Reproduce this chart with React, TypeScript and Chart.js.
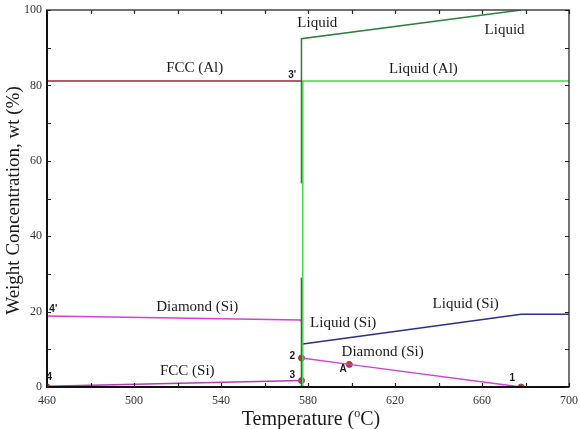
import React, { useEffect, useRef } from "react";
import { Chart, registerables } from "chart.js";

Chart.register(...registerables);

// Temperature (°C) / composition (wt %) of each phase boundary
const fccAlT = [460, 577];
const fccAlWt = [81.2, 81.2];

const liquidAlT = [577.6, 577.6, 700];
const liquidAlWt = [0, 81.2, 81.2];

const liquidT = [577, 577, 678];
const liquidWt = [54, 92.4, 100];

const liquidLowT = [577, 577];
const liquidLowWt = [0, 29];

const diamondUpperT = [460, 576.5, 576.5];
const diamondUpperWt = [18.8, 17.8, 17.4];

const fccSiT = [460, 577];
const fccSiWt = [0.2, 1.7];

const diamondLowerT = [577, 599, 678];
const diamondLowerWt = [7.7, 6.0, 0];

const liquidSiT = [577.6, 678, 700];
const liquidSiWt = [11.4, 19.3, 19.3];

// Marked states on the cooling path
const markerT = [460, 577, 577, 599, 678];
const markerWt = [0, 1.7, 7.7, 6.0, 0];

// Axis ticks
const xTickValues = [460, 480, 500, 520, 540, 560, 580, 600, 620, 640, 660, 680, 700];
const xTickLabels = ["460", "500", "540", "580", "620", "660", "700"];
const yTickValues = [0, 10, 20, 30, 40, 50, 60, 70, 80, 90, 100];
const yTickLabels = ["0", "20", "40", "60", "80", "100"];

// Phase names and where they sit (°C, wt %)
const phaseNames = [
  "FCC (Al)", "Liquid", "Liquid", "Liquid (Al)", "Diamond (Si)",
  "FCC (Si)", "Liquid (Si)", "Liquid (Si)", "Diamond (Si)",
];
const phaseNameT = [527.9, 584.3, 670.4, 633.1, 529.1, 524.5, 596.2, 652.5, 614.3];
const phaseNameWt = [84.7, 96.5, 94.6, 84.4, 21.1, 4.1, 17.0, 21.9, 9.2];

// Point ids
const pointIds = ["3'", "2", "3", "A", "1", "4", "4'"];
const pointIdT = [572.7, 572.8, 572.8, 596.2, 673.9, 461.0, 462.9];
const pointIdWt = [82.7, 8.1, 3.1, 4.8, 2.4, 2.5, 20.5];

const SERIF = "'Liberation Serif', 'Times New Roman', serif";

const zip = (xs: number[], ys: number[]) => xs.map((x, i) => ({ x, y: ys[i] }));

const line = (data: { x: number; y: number }[], color: string, width = 1.5) => ({
  type: "line" as const,
  data,
  borderColor: color,
  backgroundColor: color,
  borderWidth: width,
  pointRadius: 0,
  showLine: true,
  fill: false,
  tension: 0,
});

const decorations = {
  id: "decorations",
  afterDatasetsDraw(chart: any) {
    const { ctx, chartArea: a, scales } = chart;
    const xs = scales.x;
    const ys = scales.y;
    ctx.save();

    // frame
    ctx.strokeStyle = "#444";
    ctx.lineWidth = 1.5;
    ctx.strokeRect(a.left, a.top, a.right - a.left, a.bottom - a.top);
    ctx.strokeStyle = "#111";
    ctx.lineWidth = 2;
    ctx.beginPath();
    ctx.moveTo(a.left, a.top);
    ctx.lineTo(a.left, a.bottom);
    ctx.lineTo(a.right, a.bottom);
    ctx.stroke();

    // inward ticks on all four sides
    ctx.lineWidth = 1.2;
    ctx.strokeStyle = "#222";
    const tl = 4;
    xTickValues.forEach((v) => {
      const px = Math.round(xs.getPixelForValue(v)) + 0.5;
      ctx.beginPath();
      ctx.moveTo(px, a.bottom);
      ctx.lineTo(px, a.bottom - tl);
      ctx.moveTo(px, a.top);
      ctx.lineTo(px, a.top + tl);
      ctx.stroke();
    });
    yTickValues.forEach((v) => {
      const py = Math.round(ys.getPixelForValue(v)) + 0.5;
      ctx.beginPath();
      ctx.moveTo(a.left, py);
      ctx.lineTo(a.left + tl, py);
      ctx.moveTo(a.right, py);
      ctx.lineTo(a.right - tl, py);
      ctx.stroke();
    });

    // phase names
    ctx.fillStyle = "#1a1a1a";
    ctx.font = `15px ${SERIF}`;
    ctx.textAlign = "center";
    ctx.textBaseline = "middle";
    phaseNames.forEach((name, i) => {
      ctx.fillText(name, xs.getPixelForValue(phaseNameT[i]), ys.getPixelForValue(phaseNameWt[i]));
    });

    // point ids
    ctx.font = "bold 10px 'Liberation Sans', 'DejaVu Sans', sans-serif";
    pointIds.forEach((id, i) => {
      ctx.fillText(id, xs.getPixelForValue(pointIdT[i]), ys.getPixelForValue(pointIdWt[i]));
    });

    // x title with superscript degree mark
    const big = `20px ${SERIF}`;
    const small = `12px ${SERIF}`;
    const p1 = "Temperature (";
    const p2 = "o";
    const p3 = "C)";
    ctx.font = big;
    const w1 = ctx.measureText(p1).width;
    const w3 = ctx.measureText(p3).width;
    ctx.font = small;
    const w2 = ctx.measureText(p2).width;
    const total = w1 + w2 + w3;
    let x0 = (a.left + a.right) / 2 + 3 - total / 2;
    const base = chart.height - 4;
    ctx.textAlign = "left";
    ctx.textBaseline = "alphabetic";
    ctx.font = big;
    ctx.fillText(p1, x0, base);
    x0 += w1;
    ctx.font = small;
    ctx.fillText(p2, x0, base - 8);
    x0 += w2;
    ctx.font = big;
    ctx.fillText(p3, x0, base);

    // y title
    ctx.translate(14.5, (a.top + a.bottom) / 2 + 2);
    ctx.rotate(-Math.PI / 2);
    ctx.font = `19px ${SERIF}`;
    ctx.textAlign = "center";
    ctx.textBaseline = "middle";
    ctx.fillText("Weight Concentration, wt (%)", 0, 0);

    ctx.restore();
  },
};

export default function App() {
  const canvasRef = useRef<HTMLCanvasElement | null>(null);

  useEffect(() => {
    const canvas = canvasRef.current;
    if (!canvas) return;

    const chart = new Chart(canvas, {
      type: "line",
      data: {
        datasets: [
          line(zip(fccAlT, fccAlWt), "#9b2335"),
          line(zip(liquidAlT, liquidAlWt), "#3fdc3f"),
          line(zip(liquidT, liquidWt), "#2f7f3a"),
          line(zip(liquidLowT, liquidLowWt), "#2f6f36"),
          line(zip(diamondUpperT, diamondUpperWt), "#d63fd6"),
          line(zip(fccSiT, fccSiWt), "#b03cb4"),
          line(zip(diamondLowerT, diamondLowerWt), "#d63fd6"),
          line(zip(liquidSiT, liquidSiWt), "#2d2d8c"),
          {
            type: "scatter" as const,
            data: zip(markerT, markerWt),
            borderColor: "#b5382d",
            backgroundColor: "#b5382d",
            pointRadius: 3,
            showLine: false,
          },
        ] as any,
      },
      options: {
        animation: false,
        responsive: true,
        maintainAspectRatio: false,
        layout: { padding: { top: 10, right: 11, left: 0, bottom: 0 } },
        plugins: {
          legend: { display: false },
          tooltip: { enabled: false },
        },
        scales: {
          x: {
            type: "linear",
            min: 460,
            max: 700,
            afterFit: (s: any) => {
              s.height = 42;
              s.paddingLeft = 0;
              s.paddingRight = 0;
            },
            afterBuildTicks: (s: any) => {
              s.ticks = xTickLabels.map((t) => ({ value: Number(t) }));
            },
            ticks: {
              autoSkip: false,
              maxRotation: 0,
              padding: 7,
              color: "#333",
              font: { family: SERIF, size: 12 },
              callback: (v: any) => String(v),
            },
            grid: { display: false, drawTicks: false },
            border: { display: false },
          },
          y: {
            type: "linear",
            min: 0,
            max: 100,
            afterFit: (s: any) => {
              s.width = 47;
              s.paddingTop = 0;
              s.paddingBottom = 0;
            },
            afterBuildTicks: (s: any) => {
              s.ticks = yTickLabels.map((t) => ({ value: Number(t) }));
            },
            ticks: {
              autoSkip: false,
              padding: 5,
              color: "#333",
              font: { family: SERIF, size: 12 },
              callback: (v: any) => String(v),
            },
            grid: { display: false, drawTicks: false },
            border: { display: false },
          },
        },
      },
      plugins: [decorations],
    });

    return () => chart.destroy();
  }, []);

  return (
    <div style={{ position: "fixed", left: 0, top: 0, width: 580, height: 429, background: "#fff" }}>
      <canvas ref={canvasRef} />
    </div>
  );
}
